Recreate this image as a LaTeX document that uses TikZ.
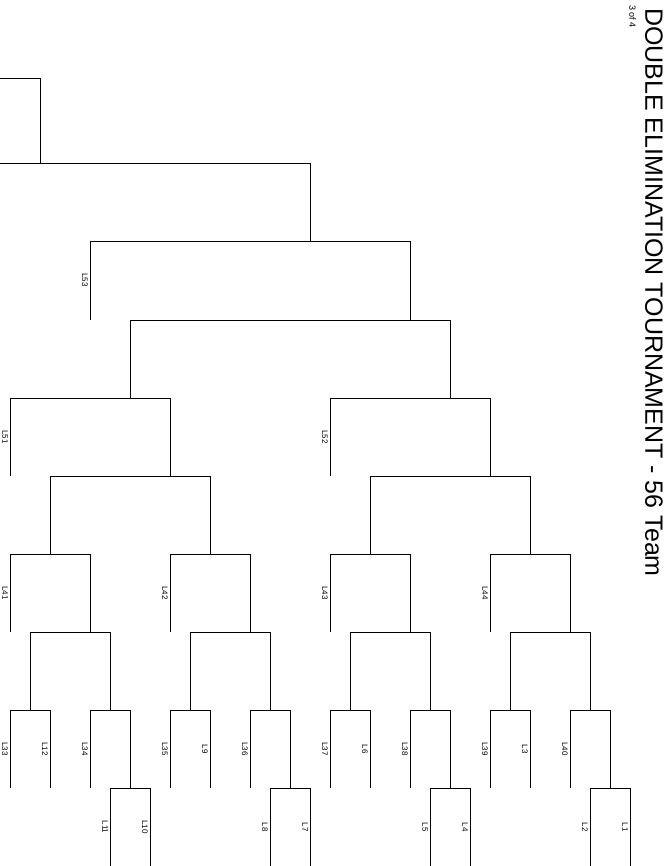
\documentclass[tikz,border=0pt]{standalone}
\usepackage{fontspec}
\setmainfont{Liberation Sans}

\begin{document}
\begin{tikzpicture}[
            x=1pt, y=-1pt,
            bracketline/.style={draw, line width=0.8pt},
            loser/.style={font=\fontsize{8}{8}\selectfont, rotate=-90, anchor=north, inner sep=0pt},
            heading/.style={font=\fontsize{25}{25}\selectfont, rotate=-90, anchor=north west, inner sep=0pt},
            pageno/.style={font=\fontsize{9}{9}\selectfont, rotate=-90, anchor=north west, inner sep=0pt}
        ]
            \useasboundingbox (0,0) rectangle (671,866);

            % title
            \node[heading] (title) at (663,8) {DOUBLE ELIMINATION TOURNAMENT - 56 Team};
            \node[pageno] (page) at (636,5) {3 of 4};

            % brackets: left leg / right leg / top / leg length
            \foreach \a/\b/\y/\h in {110/150/788/78, 270/310/788/78, 430/470/788/78, 590/630/788/78,
                                      10/50/710/78, 90/130/710/78, 170/210/710/78, 250/290/710/78,
                                      330/370/710/78, 410/450/710/78, 490/530/710/78, 570/610/710/78,
                                      30/110/632/78, 190/270/632/78, 350/430/632/78, 510/590/632/78,
                                      10/90/554/78, 170/250/554/78, 330/410/554/78, 490/570/554/78,
                                      50/210/476/78, 370/530/476/78,
                                      10/170/398/78, 330/490/398/78,
                                      130/450/320/78,
                                      90/410/241/79}
                \draw[bracketline] (\a,\y+\h) -- (\a,\y) -- (\b,\y) -- (\b,\y+\h);

            % rounds running off the page
            \draw[bracketline] (0,163) -- (310,163) -- (310,241);
            \draw[bracketline] (0,78) -- (40,78) -- (40,163);

            % losers dropping in
            \foreach \x/\y/\t in {110/827/L11, 150/827/L10, 270/827/L8, 310/827/L7,
                                  430/827/L5, 470/827/L4, 590/827/L2, 630/827/L1,
                                  10/749/L33, 50/749/L12, 90/749/L34, 170/749/L35,
                                  210/749/L9, 250/749/L36, 330/749/L37, 370/749/L6,
                                  410/749/L38, 490/749/L39, 530/749/L3, 570/749/L40,
                                  10/593/L41, 170/593/L42, 330/593/L43, 490/593/L44,
                                  10/437/L51, 330/437/L52,
                                  90/280/L53}
                \node[loser] (\t) at (\x-2,\y) {\t};
        \end{tikzpicture}
\end{document}
